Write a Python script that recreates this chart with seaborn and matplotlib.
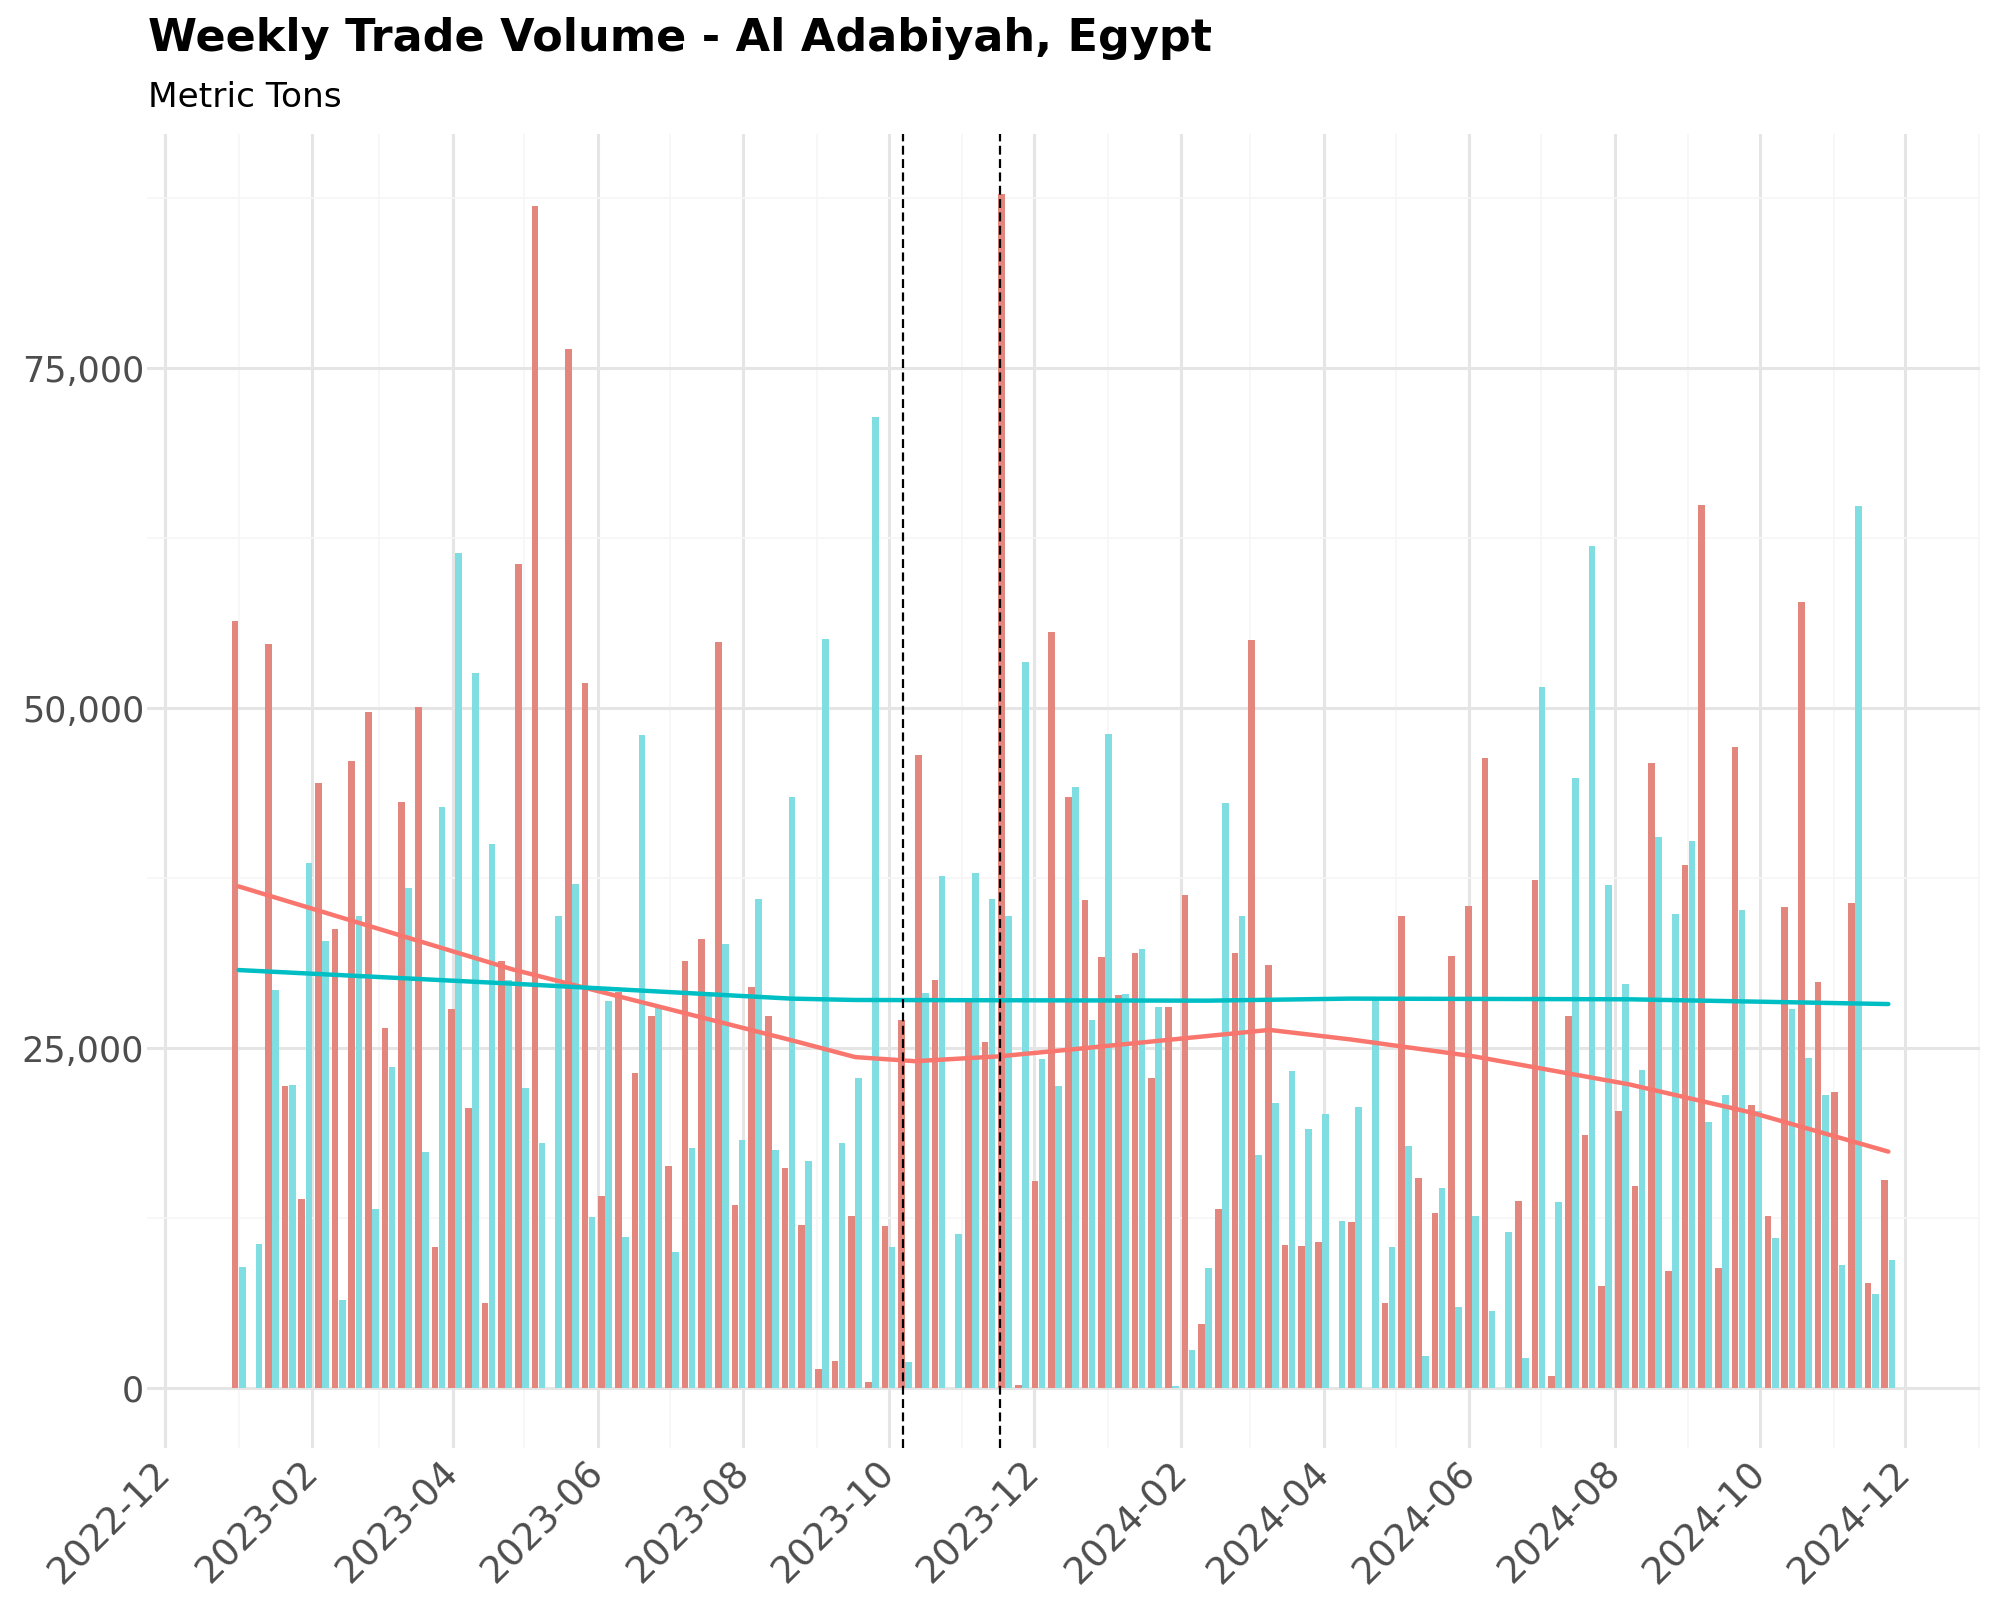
import numpy as np
import pandas as pd
import matplotlib
matplotlib.use("Agg")
import matplotlib.pyplot as plt
import matplotlib.dates as mdates
from matplotlib.ticker import FuncFormatter, MultipleLocator
import seaborn as sns

# weekly series, one value per week starting Sunday 2023-01-01
week_start = "2023-01-01"
n_weeks = 100

imports = [
    56400, 0, 54700, 22250, 13900, 44500, 33800, 46100, 49700, 26500,
    43100, 50100, 10400, 27900, 20600, 6250, 31400, 60600, 86900, 0,
    76400, 51850, 14150, 29150, 23200, 27400, 16350, 31450, 33000, 54850,
    13450, 29500, 27400, 16200, 12000, 1450, 2000, 12700, 450, 11900,
    27100, 46550, 30050, 0, 28500, 25450, 87800, 250, 15250, 55600,
    43500, 35900, 31700, 28950, 32000, 22850, 28000, 36300, 4700, 13200,
    32000, 55000, 31150, 10500, 10450, 10750, 0, 12200, 0, 6250,
    34750, 15450, 12900, 31800, 35450, 46350, 0, 13800, 37400, 900,
    27350, 18600, 7550, 20400, 14850, 45950, 8650, 38450, 64950, 8850,
    47150, 20850, 12650, 35350, 57800, 29900, 21800, 35650, 7750, 15300,
]

exports = [
    8950, 10600, 29250, 22300, 38650, 32850, 6500, 34700, 13200, 23600,
    36800, 17400, 42750, 61400, 52600, 40000, 30000, 22100, 18050, 34750,
    37050, 12600, 28450, 11100, 48050, 28150, 10000, 17700, 28950, 32700,
    18250, 36000, 17550, 43450, 16700, 55100, 18050, 22850, 71400, 10400,
    1950, 29050, 37650, 11350, 37900, 35950, 34700, 53400, 24200, 22250,
    44200, 27050, 48100, 29000, 32300, 28050, 150, 2850, 8850, 43000,
    34700, 17150, 21000, 23300, 19100, 20150, 12300, 20700, 28550, 10400,
    17800, 2350, 14750, 5950, 12700, 5650, 11500, 2200, 51550, 13700,
    44900, 61900, 37000, 29750, 23400, 40500, 34900, 40250, 19550, 21550,
    35200, 20400, 11050, 27850, 24300, 21550, 9100, 64850, 6950, 9400,
]

# smoothed trend
red_trend_dates = ["2023-01-01", "2023-04-26", "2023-08-21", "2023-09-17", "2023-10-12",
                   "2023-11-16", "2023-12-16", "2024-03-09", "2024-04-12", "2024-06-03",
                   "2024-08-07", "2024-09-28", "2024-11-24"]
red_trend = [36900, 30800, 25600, 24350, 24050, 24400, 24900, 26350, 25650, 24400,
             22350, 20250, 17400]

cyan_trend_dates = ["2023-01-01", "2023-04-26", "2023-08-21", "2023-09-17", "2024-02-12",
                    "2024-04-12", "2024-08-07", "2024-11-24"]
cyan_trend = [30750, 29750, 28650, 28550, 28500, 28650, 28600, 28250]

event_dates = ["2023-10-07", "2023-11-17"]

flows = ["Imports", "Exports"]
bar_colors = {"Imports": "#E3867E", "Exports": "#80DEE2"}
line_colors = {"Imports": "#F8766D", "Exports": "#00BFC4"}

weeks = pd.date_range(week_start, periods=n_weeks, freq="7D")
week_num = mdates.date2num(weeks)

df = pd.DataFrame({
    "week": np.concatenate([week_num, week_num]),
    "flow": ["Imports"] * n_weeks + ["Exports"] * n_weeks,
    "tons": imports + exports,
})

sns.set_style("white")
plt.rcParams["font.family"] = ["DejaVu Sans"]

fig = plt.figure(figsize=(10, 8), dpi=200)
ax = fig.add_axes([0.0735, 0.095, 0.9165, 0.821])

sns.barplot(data=df, x="week", y="tons", hue="flow", hue_order=flows,
            palette=bar_colors, native_scale=True, errorbar=None,
            width=0.85, gap=0.06, saturation=1, legend=False,
            edgecolor="none", linewidth=0, ax=ax)

sns.lineplot(x=mdates.date2num(pd.to_datetime(red_trend_dates)), y=red_trend,
             color=line_colors["Imports"], linewidth=1.6, ax=ax)
sns.lineplot(x=mdates.date2num(pd.to_datetime(cyan_trend_dates)), y=cyan_trend,
             color=line_colors["Exports"], linewidth=1.6, ax=ax)

for d in event_dates:
    ax.axvline(mdates.date2num(pd.Timestamp(d)), color="black",
               linestyle=(0, (4, 2)), linewidth=0.8, zorder=4)

# limits like ggplot's 5% expansion
x0 = week_num[0] - 3.5
x1 = week_num[-1] + 3.5
span = x1 - x0
ax.set_xlim(x0 - 0.05 * span, x1 + 0.05 * span)
ymax = max(max(imports), max(exports))
ax.set_ylim(-0.05 * ymax, 1.05 * ymax)

ax.xaxis.set_major_locator(mdates.MonthLocator(bymonth=[2, 4, 6, 8, 10, 12]))
ax.xaxis.set_minor_locator(mdates.MonthLocator(bymonth=[1, 3, 5, 7, 9, 11]))
ax.xaxis.set_major_formatter(mdates.DateFormatter("%Y-%m"))
ax.yaxis.set_major_locator(MultipleLocator(25000))
ax.yaxis.set_minor_locator(MultipleLocator(12500))
ax.yaxis.set_major_formatter(FuncFormatter(lambda v, p: f"{v:,.0f}"))

ax.set_axisbelow(True)
ax.grid(which="major", color="#E5E5E5", linewidth=1.1)
ax.grid(which="minor", color="#F6F6F6", linewidth=0.6)
for s in ax.spines.values():
    s.set_visible(False)

ax.tick_params(axis="both", which="both", length=0, colors="#4D4D4D")
ax.tick_params(axis="y", pad=1, labelsize=12.6)
ax.tick_params(axis="x", pad=7, labelsize=13.4)
plt.setp(ax.get_xticklabels(), rotation=45, ha="right", va="center",
         rotation_mode="anchor")
ax.set_xlabel("")
ax.set_ylabel("")

fig.text(0.074, 0.968, "Weekly Trade Volume - Al Adabiyah, Egypt",
         fontsize=16, fontweight="bold", ha="left", va="baseline", color="black")
fig.text(0.074, 0.933, "Metric Tons", fontsize=12.4, ha="left", va="baseline", color="black")

fig.savefig("out.png", dpi=200, facecolor="white")
